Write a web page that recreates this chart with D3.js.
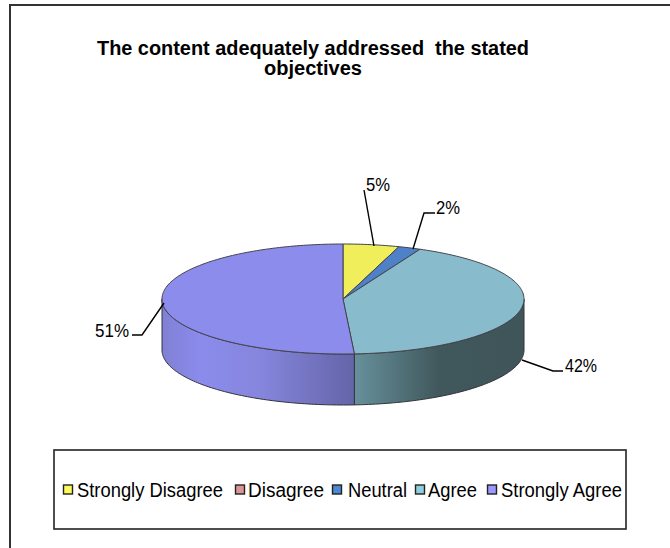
<!DOCTYPE html>
<html>
<head>
<meta charset="utf-8">
<script src="https://cdn.jsdelivr.net/npm/d3@7"></script>
<style>
  html, body { margin: 0; padding: 0; background: #fff; overflow: hidden; }
  svg { display: block; }
  text { font-family: "Liberation Sans", Arial, sans-serif; fill: #000; }
</style>
</head>
<body>
<div id="chart"></div>
<script>
const categories = ["Strongly Disagree", "Disagree", "Neutral", "Agree", "Strongly Agree"];
const percents = [5, 0, 2, 42, 51];
const topColors = ["#f0ee5a", "#cc8f8c", "#4f81c8", "#88bccc", "#8c8cec"];
const legendColors = ["#fbfb5e", "#d99694", "#4f88d2", "#8fcfdc", "#9999ff"];
const titleLines = ["The content adequately addressed  the stated", "objectives"];

const width = 670, height = 548;
const cx = 343, cy = 299, rx = 181, ry = 55, depth = 51;

const svg = d3.select("#chart").append("svg")
  .attr("width", width)
  .attr("height", height);

const defs = svg.append("defs");

// shaded wall gradients, one per visible side
function sideGradient(id, x1, x2, stops) {
  const g = defs.append("linearGradient")
    .attr("id", id)
    .attr("gradientUnits", "userSpaceOnUse")
    .attr("x1", x1).attr("x2", x2).attr("y1", 0).attr("y2", 0);
  stops.forEach(s => g.append("stop").attr("offset", s[0]).attr("stop-color", s[1]));
}
sideGradient("wall-agree", 355, 524, [[0, "#66909a"], [0.5, "#40575c"], [1, "#3f5559"]]);
sideGradient("wall-strong", 162, 355, [[0, "#8080d4"], [0.2, "#8b8bec"], [0.5, "#8686de"], [1, "#6464a8"]]);

// outer chart frame, right and bottom edges run off the page
svg.append("rect")
  .attr("x", 10).attr("y", 5)
  .attr("width", 680).attr("height", 570)
  .attr("fill", "#fff").attr("stroke", "#333").attr("stroke-width", 2);

const titleWidths = [432, 98];
svg.append("g").selectAll("text")
  .data(titleLines)
  .join("text")
  .attr("x", (d, i) => 313 - titleWidths[i] / 2)
  .attr("y", (d, i) => 55 + i * 20)
  .attr("font-size", 20)
  .attr("font-weight", "bold")
  .attr("textLength", (d, i) => titleWidths[i])
  .attr("lengthAdjust", "spacingAndGlyphs")
  .style("white-space", "pre")
  .text(d => d);

// pie angles mapped onto a flattened ellipse
const pie = d3.pie().sort(null).value(d => d);
const slices = pie(percents);
const xScale = d3.scaleLinear().domain([-1, 1]).range([cx - rx, cx + rx]);
const yScale = d3.scaleLinear().domain([-1, 1]).range([cy - ry, cy + ry]);
const px = a => xScale(Math.sin(a));
const py = a => yScale(-Math.cos(a));
const line = d3.line();

function arcPoints(a0, a1, dy) {
  const n = Math.max(2, Math.ceil((a1 - a0) / 0.02));
  return d3.range(n + 1).map(i => {
    const a = a0 + (a1 - a0) * i / n;
    return [px(a), py(a) + dy];
  });
}

// front walls: only the part of each slice below the ellipse's widest line
const walls = svg.append("g");
slices.forEach((s, i) => {
  const a0 = Math.max(s.startAngle, Math.PI / 2);
  const a1 = Math.min(s.endAngle, Math.PI * 1.5);
  if (a1 <= a0) return;
  const pts = arcPoints(a0, a1, 0).concat(arcPoints(a0, a1, depth).reverse());
  walls.append("path")
    .attr("d", line(pts) + "Z")
    .attr("fill", i === 3 ? "url(#wall-agree)" : "url(#wall-strong)")
    .attr("stroke", "#33333c")
    .attr("stroke-width", 1);
});

// top faces
const tops = svg.append("g");
slices.forEach((s, i) => {
  if (s.value === 0) return;
  const pts = [[cx, cy]].concat(arcPoints(s.startAngle, s.endAngle, 0));
  tops.append("path")
    .attr("d", line(pts) + "Z")
    .attr("fill", topColors[i])
    .attr("stroke", "#44444c")
    .attr("stroke-width", 1);
});

// percent labels with elbow leader lines
const labelSpec = [
  { i: 0, pts: [[364, 190], [374, 246]], x: 366, y: 191, w: 24 },
  { i: 2, pts: [[435, 213], [424, 213], [413, 249]], x: 436, y: 214, w: 24 },
  { i: 3, pts: [[522, 360], [553, 371], [563, 371]], x: 565, y: 372, w: 32 },
  { i: 4, pts: [[132, 335], [142, 335], [164, 303]], x: 95, y: 337, w: 34 }
];
const labels = svg.append("g");
labelSpec.forEach(l => {
  labels.append("path")
    .attr("d", line(l.pts))
    .attr("fill", "none")
    .attr("stroke", "#000")
    .attr("stroke-width", 1.4);
  labels.append("text")
    .attr("x", l.x).attr("y", l.y)
    .attr("font-size", 19)
    .attr("textLength", l.w)
    .attr("lengthAdjust", "spacingAndGlyphs")
    .text(percents[l.i] + "%");
});

// legend
const legend = svg.append("g");
legend.append("rect")
  .attr("x", 54).attr("y", 450)
  .attr("width", 572).attr("height", 79)
  .attr("fill", "#fff").attr("stroke", "#222").attr("stroke-width", 1.6);

const legendX = [63.5, 235.5, 332.5, 415.5, 487.5];
const legendTextX = [77, 248, 348, 428, 501];
const legendTextW = [146, 76, 59, 49, 121];
categories.forEach((c, i) => {
  legend.append("rect")
    .attr("x", legendX[i]).attr("y", 485)
    .attr("width", 9).attr("height", 9)
    .attr("fill", legendColors[i])
    .attr("stroke", "#222").attr("stroke-width", 1.4);
  legend.append("text")
    .attr("x", legendTextX[i]).attr("y", 497)
    .attr("font-size", 20)
    .attr("textLength", legendTextW[i])
    .attr("lengthAdjust", "spacingAndGlyphs")
    .text(c);
});
</script>
</body>
</html>
